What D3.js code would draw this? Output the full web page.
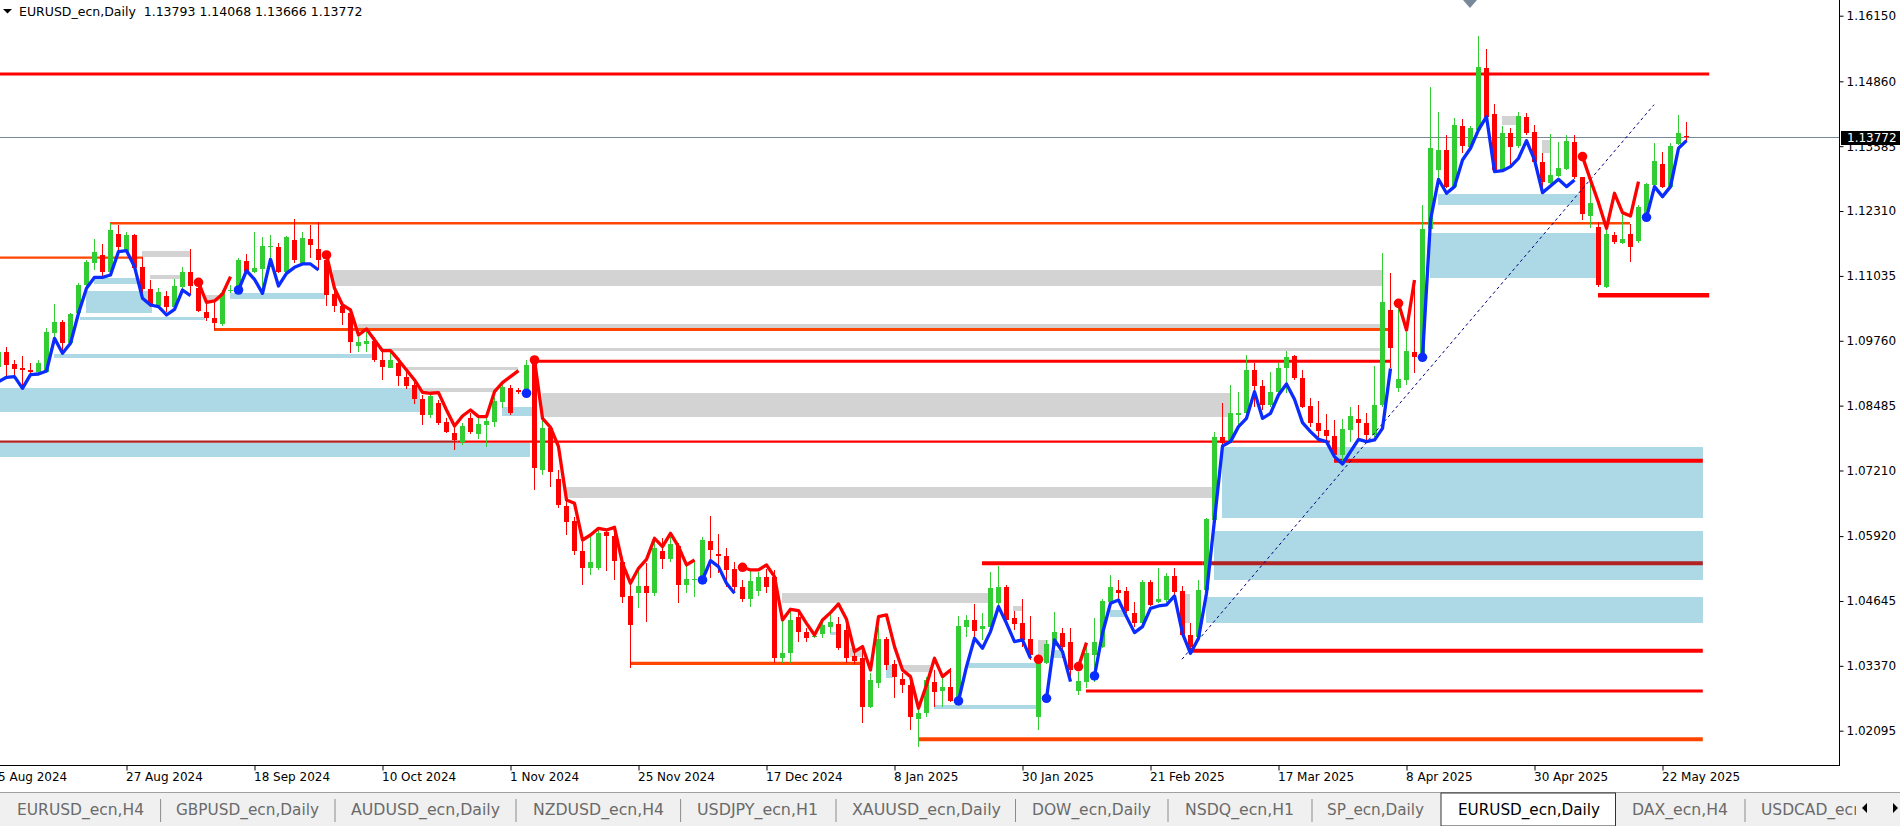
<!DOCTYPE html>
<html><head><meta charset="utf-8">
<script src="https://cdn.jsdelivr.net/npm/d3@7/dist/d3.min.js"></script>
<style>
html,body{margin:0;padding:0;background:#fff;overflow:hidden}
svg{display:block;font-family:"DejaVu Sans",sans-serif}
</style></head><body>
<svg id="chart" width="1900" height="826"></svg>
<script>
// ================= DATA =================
const symbol = "EURUSD_ecn,Daily";
const lastQuote = [1.13793, 1.14068, 1.13666, 1.13772];
const firstDate = "2024-08-05";

const opens = [1.0925,1.09546,1.09304,1.09219,1.09186,1.0914,1.09153,1.09906,1.10129,1.09723,1.103,1.10857,1.11282,1.11446,1.11119,1.11852,1.11512,1.11833,1.11204,1.10778,1.1045,1.1064,1.1043,1.10824,1.11112,1.10791,1.10319,1.10201,1.1009,1.10745,1.10758,1.11335,1.11119,1.11171,1.11604,1.11604,1.11119,
1.11742,1.11283,1.11755,1.11558,1.11349,1.1068,1.10444,1.103,1.09665,1.09697,1.09756,1.09383,1.09232,1.0933,1.09055,1.08891,1.08616,1.08302,1.08544,1.08171,1.07955,1.07777,1.08249,1.07928,1.08105,1.08171,1.08564,1.08826,1.08793,1.08793,1.0935,1.07228,1.0804,1.07044,
1.06513,1.06218,1.05635,1.05301,1.05287,1.06008,1.0593,1.05418,1.04743,1.04809,1.0494,1.04809,1.05635,1.05464,1.05726,1.0496,1.05058,1.05058,1.05831,1.05569,1.0553,1.05268,1.04927,1.04678,1.04848,1.05124,1.05124,1.03518,1.0363,1.04324,1.04042,1.03931,1.03997,1.04141,1.04193,1.04075,1.03564,
1.03518,1.02568,1.03027,1.03892,1.03407,1.03106,1.02994,1.0232,1.0245,1.0306,1.02883,1.02962,1.02686,1.04141,1.04272,1.04088,1.04141,1.04613,1.04927,1.04305,1.0422,1.03892,1.02372,1.03434,1.03761,1.0401,1.03846,1.02883,1.0306,1.03584,1.03748,1.04632,1.04862,1.04848,1.04403,1.0422,1.05025,
1.04632,1.04665,1.05137,1.04848,1.03977,1.03944,1.04861,1.06237,1.07875,1.07777,1.08302,1.08334,1.09186,1.08871,1.08498,1.08753,1.09225,1.09461,1.09022,1.08478,1.08137,1.08006,1.07888,1.07515,1.08006,1.08216,1.08151,1.07908,1.08498,1.10365,1.08826,1.08989,1.09546,1.09513,
1.11951,1.13118,1.13511,1.1279,1.13983,1.13576,1.13904,1.15116,1.14218,1.13118,1.13838,1.13589,1.14153,1.13871,1.13281,1.12869,1.13001,1.13131,1.13675,1.12973,1.12213,1.11991,1.10811,1.1184,1.11689,1.1186,1.11729,1.122,1.12823,1.13236,1.1279,1.13629,1.13793];

const highs = [1.0960,1.09645,1.09382,1.09461,1.0933,1.09382,1.10005,1.10483,1.10169,1.10313,1.10889,1.11348,1.11761,1.11662,1.12069,1.12036,1.11905,1.11859,1.114,1.10955,1.10791,1.10745,1.10968,1.11204,1.11564,1.10988,1.10496,1.10562,1.10758,1.10857,1.11381,1.11466,1.11905,1.11807,1.11839,1.11676,1.1182,
1.12148,1.11892,1.12037,1.12089,1.11447,1.10824,1.10529,1.10398,1.09842,1.0994,1.09842,1.09547,1.09527,1.09416,1.09186,1.08957,1.08695,1.08728,1.08597,1.08236,1.08105,1.08138,1.08334,1.08269,1.08367,1.08662,1.08891,1.08891,1.0883,1.09383,1.09383,1.08204,1.08073,1.07221,
1.06631,1.06303,1.05844,1.0591,1.06054,1.06041,1.06074,1.05517,1.04973,1.05254,1.05385,1.05877,1.05877,1.0591,1.05779,1.05353,1.05451,1.0591,1.06316,1.05962,1.05681,1.05418,1.05058,1.05255,1.05222,1.05268,1.05255,1.04403,1.04468,1.04468,1.04108,1.0399,1.04272,1.04403,1.04337,1.04206,1.0365,
1.03748,1.03224,1.04141,1.03944,1.03486,1.03224,1.03191,1.02634,1.03145,1.03289,1.03158,1.03322,1.0435,1.0437,1.04586,1.04403,1.05222,1.05333,1.0496,1.04455,1.04678,1.0435,1.03551,1.03879,1.04436,1.04108,1.04108,1.03256,1.03748,1.04305,1.04678,1.05157,1.05058,1.04927,1.04632,1.05058,1.05058,
1.05287,1.05189,1.05287,1.0494,1.04206,1.05058,1.0627,1.07974,1.08531,1.08891,1.0876,1.09481,1.0933,1.08989,1.09153,1.09317,1.09566,1.09481,1.09186,1.08629,1.08583,1.08321,1.08203,1.08216,1.08465,1.08498,1.08334,1.09264,1.11479,1.11099,1.10431,1.0994,1.10955,1.1243,
1.14756,1.14264,1.13806,1.14146,1.14113,1.13983,1.15752,1.15489,1.14415,1.13983,1.13937,1.14264,1.14245,1.14002,1.13445,1.13825,1.13675,1.13806,1.13806,1.12987,1.12986,1.12102,1.11971,1.11906,1.12299,1.12056,1.1243,1.12855,1.13655,1.13478,1.13655,1.14199,1.14068];

const lows = [1.0900,1.09055,1.09055,1.08825,1.09055,1.0912,1.0912,1.09841,1.09546,1.0971,1.10234,1.10758,1.11151,1.1102,1.11086,1.11512,1.11479,1.11151,1.10627,1.1043,1.1043,1.10332,1.104,1.10758,1.1066,1.10332,1.10155,1.09972,1.10057,1.10693,1.10726,1.11086,1.11086,1.10726,1.11217,1.11086,1.11086,
1.11283,1.1125,1.11381,1.11152,1.10444,1.10333,1.10071,1.09514,1.09547,1.09547,1.0935,1.0899,1.09219,1.08872,1.08813,1.08518,1.08105,1.08249,1.08105,1.07941,1.07614,1.07712,1.07922,1.07823,1.07679,1.08073,1.08433,1.08302,1.0872,1.08728,1.06828,1.07123,1.06893,1.06467,
1.05943,1.0555,1.0496,1.05156,1.05255,1.05241,1.05058,1.04613,1.03322,1.04501,1.04239,1.04744,1.05268,1.05418,1.04599,1.04796,1.0473,1.05025,1.05091,1.05189,1.04927,1.04796,1.04632,1.04534,1.04744,1.04796,1.03433,1.0342,1.0342,1.03846,1.03846,1.03911,1.03911,1.0401,1.03682,1.0342,1.034,
1.02241,1.02535,1.02929,1.03289,1.02732,1.0283,1.0211,1.01782,1.02372,1.02568,1.02568,1.02667,1.02634,1.03944,1.03944,1.03879,1.04088,1.04547,1.04239,1.04075,1.03748,1.03486,1.0211,1.03407,1.03748,1.03518,1.03093,1.02798,1.02929,1.0306,1.03715,1.04534,1.04665,1.04403,1.04141,1.04174,1.04547,
1.046,1.04632,1.04665,1.03944,1.03617,1.03911,1.04829,1.06205,1.07679,1.07744,1.08072,1.08301,1.08465,1.084,1.08465,1.08714,1.08727,1.08989,1.08432,1.08072,1.07875,1.0781,1.07384,1.07384,1.07777,1.0781,1.07757,1.07875,1.08465,1.09218,1.0876,1.08891,1.0912,1.094,
1.11873,1.1279,1.12757,1.12757,1.13445,1.13544,1.13871,1.14133,1.13085,1.13085,1.13183,1.13544,1.13806,1.13216,1.12757,1.12842,1.12987,1.13118,1.12934,1.12135,1.11971,1.10824,1.10805,1.11663,1.11663,1.11316,1.11689,1.12167,1.1279,1.12757,1.12757,1.13609,1.13666];

const closes = [1.0953,1.09284,1.09206,1.09186,1.09147,1.09317,1.09926,1.10129,1.09723,1.10287,1.10857,1.11309,1.11505,1.11119,1.11938,1.1161,1.11833,1.11197,1.10771,1.10463,1.10712,1.1043,1.10837,1.11112,1.10844,1.10345,1.10201,1.10116,1.10693,1.10758,1.11348,1.11119,1.11191,1.11623,1.11617,1.11119,1.11807,
1.11349,1.11774,1.11643,1.11349,1.10661,1.10444,1.103,1.09743,1.0973,1.09756,1.09383,1.09252,1.09383,1.09068,1.08878,1.08616,1.08302,1.08675,1.08138,1.07961,1.0781,1.08086,1.07961,1.08118,1.0819,1.08577,1.08846,1.08348,1.0876,1.09285,1.07254,1.0804,1.07188,1.06533,
1.06205,1.05635,1.05301,1.05418,1.05988,1.0593,1.05438,1.0473,1.04173,1.0494,1.04809,1.05681,1.05464,1.05766,1.0496,1.05078,1.05084,1.05844,1.05648,1.0553,1.05255,1.04927,1.04678,1.05038,1.05124,1.04914,1.03518,1.0363,1.04272,1.04042,1.03911,1.03957,1.04174,1.04233,1.03715,1.03518,1.03472,
1.02568,1.03093,1.03892,1.03388,1.03158,1.02994,1.02372,1.0245,1.03093,1.02863,1.02962,1.02686,1.04154,1.04272,1.04062,1.04154,1.04907,1.04927,1.04272,1.04193,1.03879,1.03584,1.03453,1.038,1.0403,1.03735,1.03289,1.0308,1.03617,1.03846,1.04645,1.04927,1.0481,1.04456,1.0422,1.05025,1.04567,
1.04678,1.05137,1.04829,1.03977,1.03748,1.04861,1.06251,1.07875,1.07744,1.08334,1.08347,1.09186,1.08878,1.08498,1.08753,1.09225,1.09435,1.09022,1.08465,1.08137,1.07993,1.07888,1.07515,1.08019,1.08282,1.08137,1.07908,1.08498,1.10529,1.09612,1.09003,1.09559,1.09448,1.11951,
1.13557,1.13511,1.12777,1.14002,1.13589,1.13937,1.15149,1.14166,1.13118,1.13838,1.13576,1.14179,1.13851,1.13281,1.12888,1.13019,1.13151,1.13694,1.12973,1.12253,1.12476,1.10857,1.1186,1.11709,1.11761,1.11611,1.12384,1.12842,1.13301,1.1279,1.13589,1.13851,1.13772];

// trend-following indicator line (value per bar), with colour segments
const trendLine = [1.08956,1.09042,1.09055,1.08825,1.09094,1.09107,1.09166,1.09808,1.09513,1.0971,1.103,1.10791,1.11007,1.11007,1.11053,1.11512,1.11531,1.11217,1.10594,1.10463,1.1043,1.10267,1.10378,1.10758,1.10647,1.10909,1.10516,1.10542,1.1068,1.1102,1.10758,1.11138,1.10968,1.10693,1.11361,1.10837,1.11086,
1.11204,1.1127,1.1127,1.11152,1.11447,1.10792,1.10464,1.10366,1.09874,1.09992,1.09776,1.09566,1.09566,1.09383,1.09186,1.0899,1.08747,1.08728,1.08741,1.084,1.08086,1.08282,1.084,1.08269,1.08269,1.0876,1.08937,1.09055,1.09173,1.08728,1.09383,1.08236,1.08059,1.07679,1.06631,
1.06565,1.05844,1.05942,1.06074,1.06041,1.06093,1.05386,1.04992,1.05287,1.05464,1.05877,1.05713,1.05975,1.05713,1.05353,1.05451,1.05058,1.05438,1.0532,1.04992,1.04796,1.05307,1.05255,1.05255,1.05353,1.05124,1.04272,1.04482,1.04455,1.04206,1.03977,1.04272,1.04416,1.04586,1.04285,1.03649,
1.03748,1.03289,1.04337,1.0437,1.03748,1.03289,1.03158,1.02536,1.02994,1.03518,1.03158,1.03289,1.0268,1.03355,1.03912,1.03715,1.04043,1.04534,1.04206,1.03846,1.03879,1.03518,1.03499,1.02732,1.03879,1.0365,1.0306,1.03355,1.03826,1.03171,1.0401,1.046,1.04665,1.04337,1.04023,1.04141,1.04501,
1.04547,1.04567,1.04744,1.0401,1.03617,1.03911,1.04796,1.06237,1.07692,1.07777,1.08072,1.08236,1.0876,1.08236,1.08334,1.08694,1.08911,1.08609,1.08151,1.07974,1.07823,1.07777,1.07482,1.07338,1.0758,1.07823,1.07777,1.0781,1.08039,1.09216,1.10496,1.09972,1.10955,1.09435,
1.12135,1.12934,1.12659,1.1279,1.13314,1.13544,1.13904,1.14166,1.13085,1.13104,1.13183,1.13347,1.13694,1.13314,1.12672,1.12803,1.12934,1.1279,1.12921,1.1338,1.12921,1.12475,1.11971,1.12659,1.12279,1.12213,1.12888,1.12187,1.1279,1.12593,1.1279,1.13544,1.13694];
const trendSegStart = [0,25,30,41,66,67,88,93,120,130,131,135,137,175,178,198,206];
const trendSegDir   = ["up","down","up","down","up","down","up","down","up","down","up","down","up","down","up","down","up"];

// zones: [top price, bottom price, from bar, to bar]
const supplyZones = [
 [1.11152,1.10837,41.9,173],[1.10090,1.10011,45,173],[1.09618,1.09558,47.75,172.75],
 [1.09245,1.09186,51.1,65],[1.08832,1.08753,53.1,62.4],[1.08734,1.08262,68,154],
 [1.06886,1.06670,70.9,151.75],[1.04802,1.04606,98,123.75],
 [1.11525,1.11407,18,24],[1.11054,1.10975,19,23],[1.10660,1.10542,26,27.75],
 [1.14179,1.14002,188,189.9],[1.13707,1.13452,193,194],
 [1.03721,1.03545,106.5,108.1],[1.03387,1.03250,113,116.5],[1.04547,1.04449,126.9,128.1],
 [1.03879,1.03545,130,131.25],[1.04783,1.04213,147.75,149]];
const demandZones = [
 [1.08826,1.08366,-2,52.75],[1.07751,1.07476,-2,66.5],[1.09500,1.09421,7,46.75],
 [1.10745,1.10313,11,19.25],[1.10995,1.10877,12,17.75],[1.10234,1.10169,10.25,25.9],
 [1.10700,1.10577,29,40.9],[1.08459,1.08282,63,66.75],[1.04035,1.03976,104,104.9],
 [1.03387,1.03132,111,111.9],[1.02601,1.02523,117,129.9],[1.03426,1.03328,121.25,129.9],
 [1.03682,1.03525,131.9,133.1],[1.04469,1.04331,139,141.1],
 [1.07678,1.06271,153,213.1],[1.06022,1.05058,152,213.1],[1.04724,1.04213,151,213.1],
 [1.12645,1.12429,180,197.75],[1.11879,1.10994,179,199.9]];
// horizontal levels: [price, from bar, to bar, style]
const levels = [
 [1.15004,-2,213.9,"red3"],[1.12070,14,204,"orange2"],[1.11393,-2,18.1,"orange2"],
 [1.09982,27,173.75,"orange3"],[1.09357,66.9,174,"red3"],[1.07777,-2,57.4,"dark2"],
 [1.07777,57.4,166.5,"red2"],[1.07403,167,213.1,"red4"],[1.05386,123,150.6,"red4"],
 [1.05386,150.6,213.1,"dark4"],[1.03668,149,213.1,"red4"],[1.02876,136,213.1,"red3"],
 [1.01927,115,213.1,"orange4"],[1.03420,79,107.75,"orange3"],[1.10654,200,213.9,"red5"]];
const diagonal = [[148,1.0350],[207,1.1440]];
const priceTicks = [1.16150,1.14860,1.13585,1.12310,1.11035,1.09760,1.08485,1.07210,1.05920,1.04645,1.03370,1.02095];
const dateTickEvery = 16;
const tabs = ["EURUSD_ecn,H4","GBPUSD_ecn,Daily","AUDUSD_ecn,Daily","NZDUSD_ecn,H4","USDJPY_ecn,H1","XAUUSD_ecn,Daily","DOW_ecn,Daily","NSDQ_ecn,H1","SP_ecn,Daily","EURUSD_ecn,Daily","DAX_ecn,H4","USDCAD_ecn,Daily"];
const activeTab = 9;

// ================= LAYOUT / STYLE =================
const plotRight = 1839, plotBottom = 765;
const levelStyle = {
  red2:{c:"#ff0000",w:2.3}, red3:{c:"#ff0000",w:3}, red4:{c:"#ff0000",w:4}, red5:{c:"#ff0000",w:4.6},
  orange2:{c:"#ff4500",w:2.3}, orange3:{c:"#ff4500",w:3.2}, orange4:{c:"#ff4500",w:4},
  dark2:{c:"#b22222",w:2.3}, dark4:{c:"#b22222",w:4}};
const tabLayout = [[17,127],[176,143],[351,149],[533,131],[697,121],[852,149],[1032,119],[1185,109],[1327,97],[1458,142],[1632,96],[1761,146]];
const tabSeparators = [160.6,335,516,680.6,836,1015.5,1168,1312,1745];

// ================= SCALES =================
const N = opens.length;
const xs = d3.scaleLinear().domain([0, N-1]).range([-2, -2 + 8*(N-1)]);
const ys = d3.scaleLinear().domain([1.02095, 1.16150]).range([730.7, 15.7]);

const dates = [];
{ let d = new Date(firstDate + "T00:00:00Z");
  while (dates.length < N) { const wd = d.getUTCDay(); if (wd > 0 && wd < 6) dates.push(new Date(d)); d = new Date(d.getTime() + 86400000); } }
const fmtDate = d3.utcFormat("%-d %b %Y");

const svg = d3.select("#chart");
svg.append("rect").attr("width",1900).attr("height",826).attr("fill","#fff");
svg.append("defs").append("clipPath").attr("id","plotClip").append("rect")
  .attr("x",0).attr("y",0).attr("width",plotRight).attr("height",plotBottom);
const g = svg.append("g").attr("clip-path","url(#plotClip)");

// zones
function drawZones(arr, color){
  g.append("g").selectAll("rect").data(arr).join("rect")
   .attr("x", d=>xs(d[2])).attr("width", d=>xs(d[3])-xs(d[2]))
   .attr("y", d=>ys(d[0])).attr("height", d=>Math.max(1, ys(d[1])-ys(d[0])))
   .attr("fill", color).attr("shape-rendering","crispEdges");
}
drawZones(demandZones, "#add8e6");
drawZones(supplyZones, "#d3d3d3");

// current price line
g.append("line").attr("x1",0).attr("x2",plotRight)
 .attr("y1",Math.round(ys(lastQuote[3]))+0.5).attr("y2",Math.round(ys(lastQuote[3]))+0.5)
 .attr("stroke","#778899").attr("stroke-width",1);

// levels
g.append("g").selectAll("line").data(levels).join("line")
 .attr("x1", d=>xs(d[1])).attr("x2", d=>xs(d[2]))
 .attr("y1", d=>ys(d[0])).attr("y2", d=>ys(d[0]))
 .attr("stroke", d=>levelStyle[d[3]].c).attr("stroke-width", d=>levelStyle[d[3]].w);

// candles
const idx = d3.range(N);
const candle = g.append("g").selectAll("g").data(idx).join("g");
const col = i => closes[i] >= opens[i] ? "#32cd32" : "#ff0000";
candle.append("rect").attr("x", i=>xs(i)).attr("width",1)
  .attr("y", i=>ys(highs[i])).attr("height", i=>Math.max(1, ys(lows[i])-ys(highs[i])))
  .attr("fill", col).attr("shape-rendering","crispEdges");
candle.append("rect").attr("x", i=>xs(i)-2).attr("width",5)
  .attr("y", i=>ys(Math.max(opens[i],closes[i])))
  .attr("height", i=>Math.max(1, Math.abs(ys(opens[i])-ys(closes[i]))))
  .attr("fill", col).attr("shape-rendering","crispEdges");

// diagonal dashed trendline
g.append("line").attr("x1", xs(diagonal[0][0])).attr("y1", ys(diagonal[0][1]))
 .attr("x2", xs(diagonal[1][0])).attr("y2", ys(diagonal[1][1]))
 .attr("stroke","#000080").attr("stroke-width",1).attr("stroke-dasharray","3,3");

// indicator line segments
const segColor = {up:"#0a2cff", down:"#ff0000"};
const lineGen = d3.line().x(i=>xs(i)+0.5).y(i=>ys(trendLine[i]));
trendSegStart.forEach((s,k)=>{
  const e = k < trendSegStart.length-1 ? trendSegStart[k+1]-1 : N-1;
  const pts = d3.range(s, e+1);
  if (pts.length > 1) g.append("path").attr("d", lineGen(pts)).attr("fill","none")
     .attr("stroke", segColor[trendSegDir[k]]).attr("stroke-width",3.3).attr("stroke-linejoin","round");
});
trendSegStart.forEach((s,k)=>{
  if (k === 0) return;
  g.append("circle").attr("cx", xs(s)+0.5).attr("cy", ys(trendLine[s])).attr("r",4.8)
   .attr("fill", segColor[trendSegDir[k]]);
});

// top marker
svg.append("path").attr("d","M1463,0 L1477,0 L1470,8 Z").attr("fill","#778899");

// header
svg.append("path").attr("d","M3,9 L12,9 L7.5,13.5 Z").attr("fill","#000");
svg.append("text").attr("x",19).attr("y",16).attr("font-size",12.5).attr("fill","#000")
  .attr("xml:space","preserve")
  .text(symbol + "  " + lastQuote.map(v=>v.toFixed(5)).join(" "));

// frame
svg.append("line").attr("x1",plotRight+0.5).attr("x2",plotRight+0.5).attr("y1",0).attr("y2",plotBottom+1).attr("stroke","#000");
svg.append("line").attr("x1",0).attr("x2",plotRight+1).attr("y1",plotBottom+0.5).attr("y2",plotBottom+0.5).attr("stroke","#000");

// right axis
const yAxis = d3.axisRight(ys).tickValues(priceTicks).tickSize(4).tickPadding(3).tickFormat(d3.format(".5f"));
const ya = svg.append("g").attr("transform",`translate(${plotRight+0.5},0)`).call(yAxis);
ya.select(".domain").remove();
ya.selectAll("text").attr("font-size",12).attr("font-family","DejaVu Sans").attr("fill","#000");
ya.selectAll("line").attr("stroke","#000");

// price box
const py = Math.round(ys(lastQuote[3]));
svg.append("rect").attr("x",plotRight+2).attr("y",py-6).attr("width",60).attr("height",14).attr("fill","#000");
svg.append("text").attr("x",plotRight+8).attr("y",py+5).attr("font-size",12).attr("fill","#fff").text(lastQuote[3].toFixed(5));

// bottom axis
const tickIdx = d3.range(0, N, dateTickEvery);
const xAxis = d3.axisBottom(xs).tickValues(tickIdx).tickSize(5).tickPadding(2).tickFormat(i=>fmtDate(dates[i]));
const xa = svg.append("g").attr("transform",`translate(0.5,${plotBottom+0.5})`).call(xAxis);
xa.select(".domain").remove();
xa.selectAll("text").attr("font-size",12).attr("font-family","DejaVu Sans").attr("fill","#000").attr("text-anchor","start").attr("dx",-1);
xa.selectAll("line").attr("stroke","#000");

// tab bar
const tb = svg.append("g");
tb.append("rect").attr("x",0).attr("y",793).attr("width",1900).attr("height",33).attr("fill","#f0f0f0");
tb.append("line").attr("x1",0).attr("x2",1900).attr("y1",792.5).attr("y2",792.5).attr("stroke","#a0a0a0");
tb.append("rect").attr("x",1441).attr("y",793).attr("width",174.5).attr("height",33).attr("fill","#fff").attr("stroke","#333").attr("stroke-width",1);
tabSeparators.forEach(x=>tb.append("line").attr("x1",x).attr("x2",x).attr("y1",799).attr("y2",822).attr("stroke","#8c8c8c"));
tb.append("defs").append("clipPath").attr("id","tabClip").append("rect").attr("x",0).attr("y",790).attr("width",1856).attr("height",36);
const tt = tb.append("g").attr("clip-path","url(#tabClip)");
tabs.forEach((t,k)=>{
  tt.append("text").attr("x",tabLayout[k][0]).attr("y",815).attr("font-size",16)
   .attr("font-family","'Liberation Sans Narrow','DejaVu Sans Condensed',sans-serif")
   .attr("textLength",tabLayout[k][1]).attr("lengthAdjust","spacingAndGlyphs")
   .attr("fill", k===activeTab ? "#000" : "#6a6a6a").text(t);
});
tb.append("path").attr("d","M1862,808 L1867,803 L1867,813 Z").attr("fill","#000");
tb.append("path").attr("d","M1893,803 L1898,808 L1893,813 Z").attr("fill","#000");
</script>
</body></html>
